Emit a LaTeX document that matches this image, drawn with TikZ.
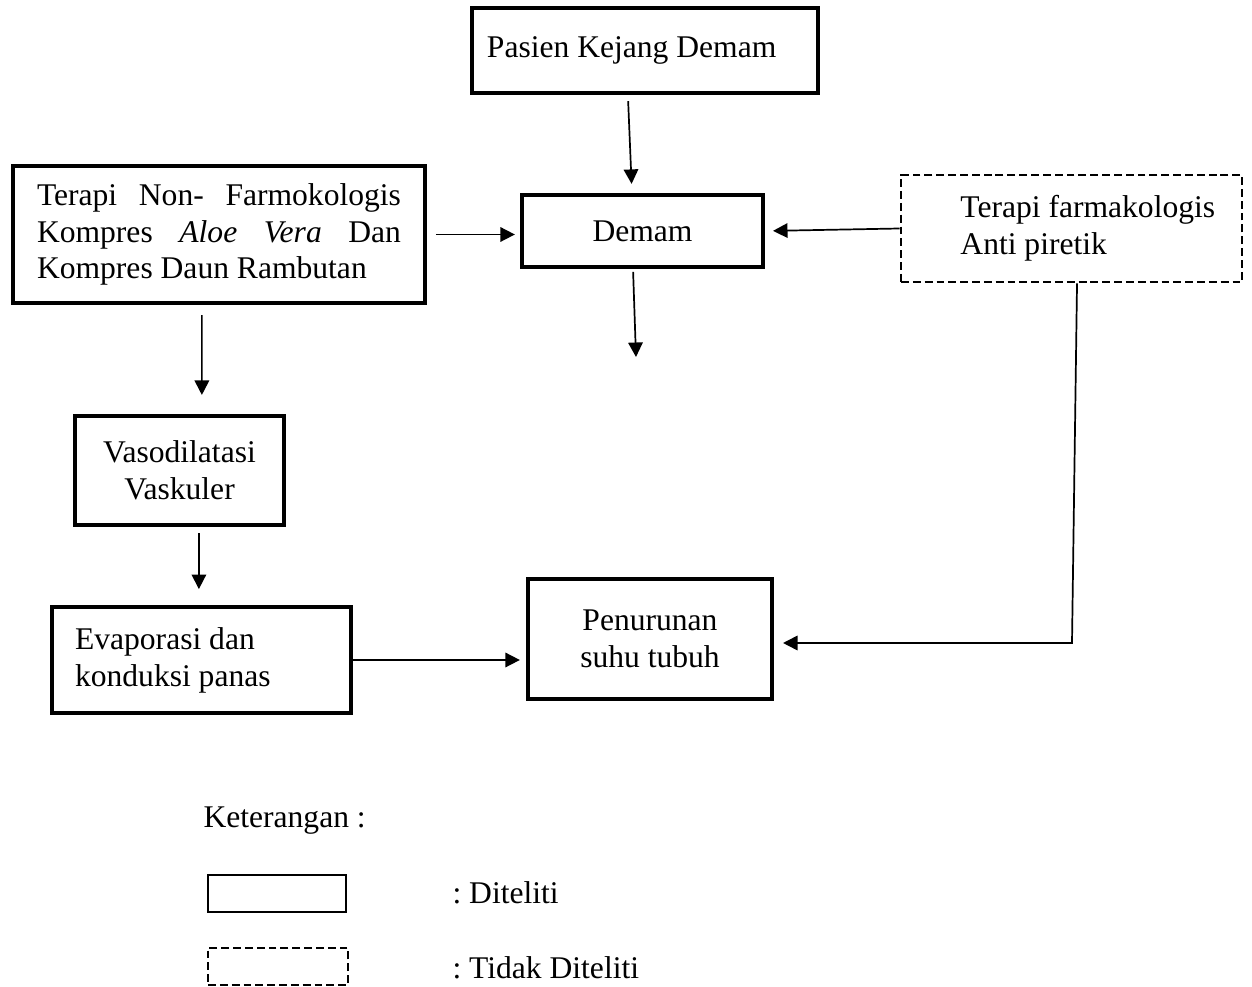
\documentclass[tikz,border=0pt]{standalone}
\usepackage{fontspec}
\setmainfont{Liberation Serif}
\usetikzlibrary{arrows.meta}

\begin{document}
\begin{tikzpicture}[x=0.38pt, y=-0.38pt, >={Triangle[length=5.5pt,width=5.5pt]},
                    font=\fontsize{12}{14}\selectfont\frenchspacing]
  \tikzstyle{box}=[draw, line width=1.6pt, inner sep=0pt, align=flush center]
  \tikzstyle{dbox}=[draw, line width=1pt, dash pattern=on 3pt off 1.5pt, inner sep=0pt]
  \tikzstyle{arr}=[->, line width=0.65pt]
  \tikzstyle{txt}=[inner sep=0pt, anchor=west]

  \useasboundingbox (0,0) rectangle (1252,987);

  % --- alur utama ---
  \node[box, minimum width=131.5pt, minimum height=32.3pt, text width=120.1pt,
        inner xsep=5.7pt, align=flush left] (pasien) at (645,50.5) {Pasien Kejang Demam};
  \node[box, minimum width=91.6pt, minimum height=27.4pt] (demam) at (642.5,231) {Demam};
  \node[box, minimum height=52.1pt, text width=138.3pt, inner xsep=9.1pt,
        align=justify] (nonfarm) at (219,234.5)
        {Terapi Non- Farmokologis Kompres \textit{Aloe Vera} Dan Kompres Daun Rambutan};
  \node[dbox, minimum width=129.6pt, minimum height=40.7pt, text width=114pt,
        inner xsep=7.8pt, align=flush left] (farm) at (1071.5,228.5)
        {\hspace*{14.8pt}Terapi farmakologis\\\hspace*{14.8pt}Anti piretik};
  \node[box, minimum width=79.4pt, minimum height=41.4pt] (vaso) at (179.5,470.5)
        {Vasodilatasi\\Vaskuler};
  \node[box, minimum width=113.6pt, minimum height=40.3pt, text width=96.1pt,
        inner xsep=8.75pt, align=flush left] (evap) at (201.5,660) {Evaporasi dan\\konduksi panas};
  \node[box, minimum width=92.7pt, minimum height=45.6pt] (pen) at (650,639)
        {Penurunan\\suhu tubuh};

  % --- panah ---
  \coordinate (demamout) at (636,357);
  \coordinate (farmbend) at (1072,643);
  \draw[arr, shorten <=2.3pt, shorten >=3.4pt] ([xshift=-6.5pt]pasien.south) -- ([xshift=-4pt]demam.north);
  \draw[arr, shorten <=3.4pt, shorten >=1.9pt] (nonfarm.east) -- (nonfarm.east -| demam.west);
  \draw[arr, shorten >=3pt] (farm.west) -- (demam.east);
  \draw[arr, shorten <=1pt] ([xshift=-3.6pt]demam.south) -- (demamout);
  \draw[arr, shorten <=3.8pt, shorten >=7.2pt] ([xshift=-6.5pt]nonfarm.south) -- ([xshift=8.5pt]vaso.north);
  \draw[arr, shorten <=2.3pt, shorten >=6pt] ([xshift=7.4pt]vaso.south) -- ([xshift=-1pt]evap.north);
  \draw[arr, shorten >=2.3pt] (evap.east) -- (evap.east -| pen.west);
  \draw[arr, shorten >=3.4pt] ([xshift=2.1pt]farm.south) -- (farmbend) -- (farmbend -| pen.east);

  % --- keterangan ---
  \node[txt] (ket) at (203,821) {Keterangan :};
  \node[draw, line width=1pt, inner sep=0pt, minimum width=52.4pt, minimum height=14.1pt]
        (legbox) at (277,893.5) {};
  \node[txt] (diteliti) at (452,893) {: Diteliti};
  \node[dbox, minimum width=53.2pt, minimum height=14.1pt] (legdbox) at (278,966.5) {};
  \node[txt] (tidak) at (452,968) {: Tidak Diteliti};
\end{tikzpicture}
\end{document}
